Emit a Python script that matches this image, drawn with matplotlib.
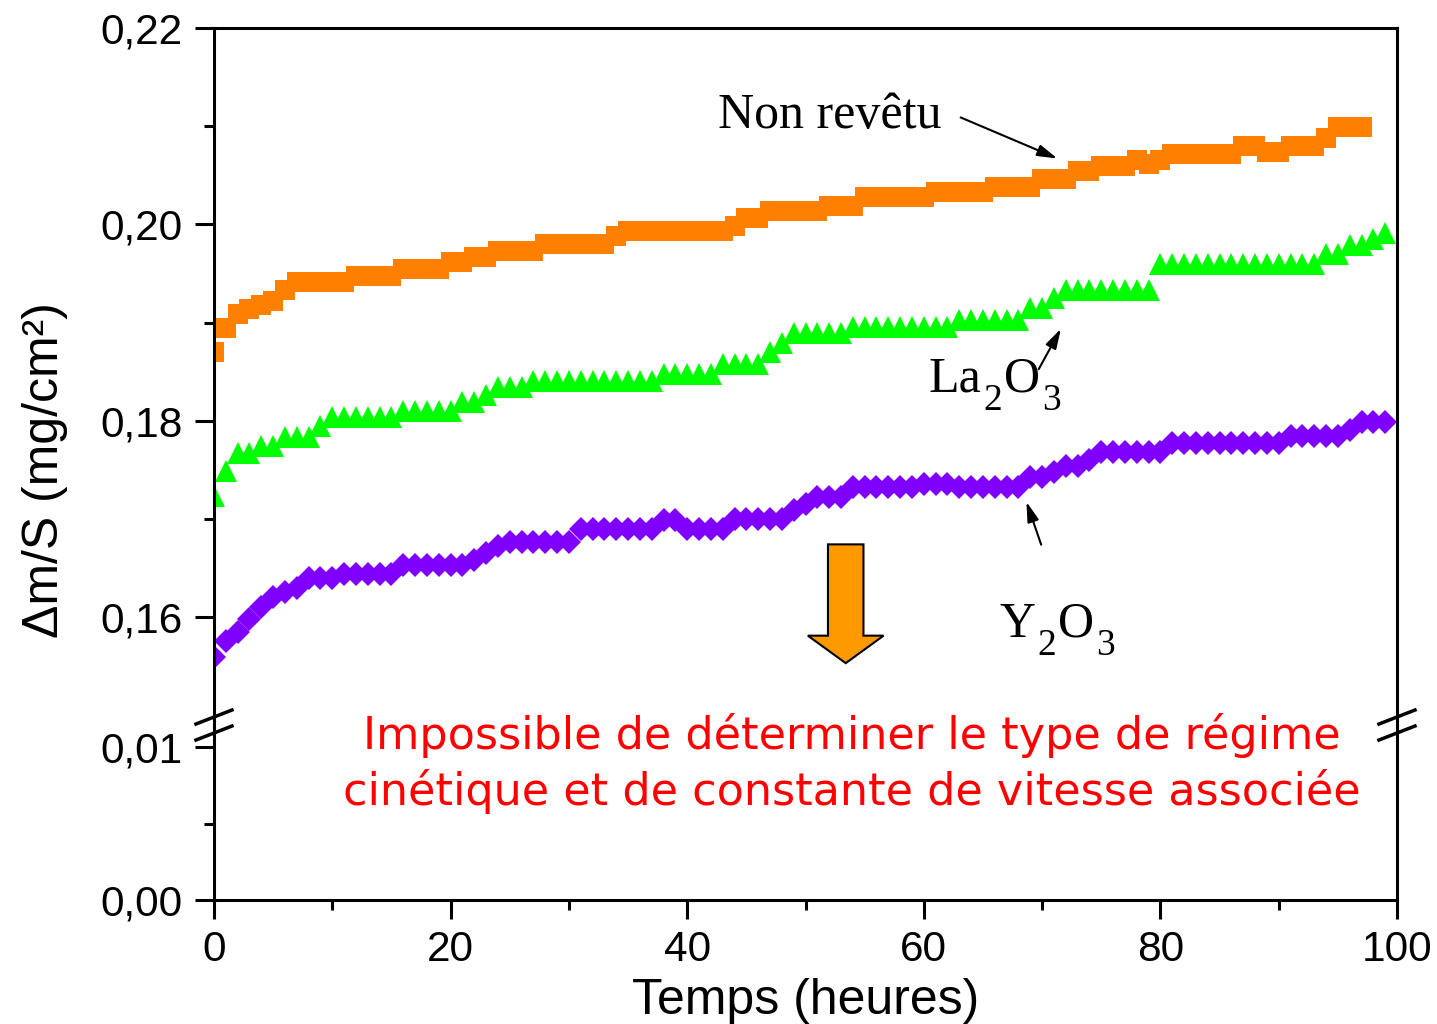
import numpy as np
import matplotlib
matplotlib.use('Agg')
import matplotlib.pyplot as plt
from matplotlib.ticker import FixedLocator, FuncFormatter
from matplotlib.patches import FancyArrow
from matplotlib.lines import Line2D

plt.rcParams['font.family'] = ['Liberation Sans', 'DejaVu Sans']

# temps (heures)
t_non = np.arange(0, 98)
t_oxy = np.arange(0, 100)

non_revetu = [
    0.1870, 0.1894, 0.1909, 0.1914, 0.1918, 0.1922, 0.1933, 0.1941, 0.1941, 0.1941,
    0.1941, 0.1941, 0.1947, 0.1947, 0.1947, 0.1947, 0.1954, 0.1954, 0.1954, 0.1954,
    0.1962, 0.1962, 0.1967, 0.1967, 0.1973, 0.1973, 0.1973, 0.1973, 0.1980, 0.1980,
    0.1980, 0.1980, 0.1980, 0.1980, 0.1988, 0.1993, 0.1993, 0.1993, 0.1993, 0.1993,
    0.1993, 0.1993, 0.1993, 0.1993, 0.1998, 0.2006, 0.2006, 0.2014, 0.2014, 0.2014,
    0.2014, 0.2014, 0.2019, 0.2019, 0.2019, 0.2028, 0.2028, 0.2028, 0.2028, 0.2028,
    0.2028, 0.2033, 0.2033, 0.2033, 0.2033, 0.2033, 0.2038, 0.2038, 0.2038, 0.2038,
    0.2046, 0.2046, 0.2046, 0.2054, 0.2054, 0.2059, 0.2059, 0.2059, 0.2066, 0.2061,
    0.2066, 0.2072, 0.2072, 0.2072, 0.2072, 0.2072, 0.2072, 0.2080, 0.2080, 0.2074,
    0.2074, 0.2080, 0.2080, 0.2080, 0.2088, 0.2099, 0.2099, 0.2099]

la2o3 = [
    0.1723, 0.1749, 0.1767, 0.1767, 0.1774, 0.1774, 0.1783, 0.1783, 0.1783, 0.1795,
    0.1804, 0.1804, 0.1804, 0.1804, 0.1804, 0.1804, 0.1810, 0.1810, 0.1810, 0.1810,
    0.1810, 0.1819, 0.1819, 0.1826, 0.1834, 0.1834, 0.1834, 0.1840, 0.1840, 0.1840,
    0.1840, 0.1840, 0.1840, 0.1840, 0.1840, 0.1840, 0.1840, 0.1840, 0.1848, 0.1848,
    0.1848, 0.1848, 0.1848, 0.1858, 0.1858, 0.1858, 0.1858, 0.1870, 0.1879, 0.1889,
    0.1889, 0.1889, 0.1889, 0.1889, 0.1895, 0.1895, 0.1895, 0.1895, 0.1895, 0.1895,
    0.1895, 0.1895, 0.1895, 0.1903, 0.1903, 0.1903, 0.1903, 0.1903, 0.1903, 0.1915,
    0.1915, 0.1925, 0.1933, 0.1933, 0.1933, 0.1933, 0.1933, 0.1933, 0.1933, 0.1933,
    0.1960, 0.1960, 0.1960, 0.1960, 0.1960, 0.1960, 0.1960, 0.1960, 0.1960, 0.1960,
    0.1960, 0.1960, 0.1960, 0.1960, 0.1970, 0.1970, 0.1979, 0.1979, 0.1985, 0.1991]

y2o3 = [
    0.1559, 0.1576, 0.1585, 0.1598, 0.1610, 0.1620, 0.1625, 0.1630, 0.1640, 0.1640,
    0.1640, 0.1644, 0.1644, 0.1644, 0.1644, 0.1644, 0.1653, 0.1653, 0.1653, 0.1653,
    0.1653, 0.1653, 0.1658, 0.1665, 0.1672, 0.1676, 0.1676, 0.1676, 0.1676, 0.1676,
    0.1676, 0.1690, 0.1690, 0.1690, 0.1690, 0.1690, 0.1690, 0.1690, 0.1699, 0.1699,
    0.1690, 0.1690, 0.1690, 0.1690, 0.1700, 0.1700, 0.1700, 0.1700, 0.1700, 0.1709,
    0.1715, 0.1722, 0.1722, 0.1722, 0.1732, 0.1732, 0.1732, 0.1732, 0.1732, 0.1732,
    0.1735, 0.1735, 0.1735, 0.1732, 0.1732, 0.1732, 0.1732, 0.1732, 0.1732, 0.1743,
    0.1743, 0.1748, 0.1754, 0.1754, 0.1760, 0.1768, 0.1768, 0.1768, 0.1768, 0.1768,
    0.1768, 0.1777, 0.1777, 0.1777, 0.1777, 0.1777, 0.1777, 0.1777, 0.1777, 0.1777,
    0.1777, 0.1784, 0.1784, 0.1784, 0.1784, 0.1784, 0.1790, 0.1799, 0.1799, 0.1799]

x_ticks = [0, 20, 40, 60, 80, 100]
y_ticks_haut = [0.16, 0.18, 0.20, 0.22]
y_ticks_bas = [0.00, 0.01]

W, H = 1437, 1024
fig = plt.figure(figsize=(W / 100, H / 100), dpi=100)

def fx(px):
    return px / W

def fy(py):
    return 1 - py / H

left, right = fx(214), fx(1397)
ax_h = fig.add_axes([left, fy(725), right - left, fy(28) - fy(725)])
ax_b = fig.add_axes([left, fy(900), right - left, fy(725) - fy(900)])

for ax in (ax_h, ax_b):
    ax.plot(t_non, non_revetu, 's', color='#FF8000', ms=14.4, mew=0)
    ax.plot(t_oxy, la2o3, '^', color='#00FF00', ms=16, mew=0)
    ax.plot(t_oxy, y2o3, 'D', color='#8000FF', ms=12.5, mew=0)
    ax.set_xlim(0, 100)
    for s in ax.spines.values():
        s.set_linewidth(2.2)
    ax.tick_params(axis='both', which='major', direction='out', length=13.5, width=2.2,
                   labelsize=30.5, pad=9)
    ax.tick_params(axis='both', which='minor', direction='out', length=7, width=2.2)
    ax.yaxis.set_major_formatter(FuncFormatter(lambda v, p: f'{v:.2f}'.replace('.', ',')))

ax_h.set_ylim(0.1490, 0.22)
ax_b.set_ylim(0, 0.01144)
ax_h.spines['bottom'].set_visible(False)
ax_b.spines['top'].set_visible(False)
ax_h.tick_params(axis='x', which='both', bottom=False, labelbottom=False)
ax_h.yaxis.set_major_locator(FixedLocator(y_ticks_haut))
ax_h.yaxis.set_minor_locator(FixedLocator([0.17, 0.19, 0.21]))
ax_b.yaxis.set_major_locator(FixedLocator(y_ticks_bas))
ax_b.yaxis.set_minor_locator(FixedLocator([0.005]))
ax_b.xaxis.set_major_locator(FixedLocator(x_ticks))
ax_b.xaxis.set_minor_locator(FixedLocator([10, 30, 50, 70, 90]))
ax_b.tick_params(axis='x', which='major', pad=8)

ax_b.set_xlabel('Temps (heures)', fontsize=36, labelpad=6)
fig.text(fx(45), fy(470), 'Δm/S (mg/cm²)', rotation=90, fontsize=36,
         ha='center', va='center')

# marques de coupure
for xc in (214, 1397):
    for yc in (717, 733):
        fig.add_artist(Line2D([fx(xc - 18), fx(xc + 18)], [fy(yc + 7), fy(yc - 7)],
                              color='black', lw=2.5, transform=fig.transFigure))


def formule(ax, x, y, morceaux):
    # morceaux alternent texte normal et indice (plus petit, plus bas)
    t = ax.text(x, y, morceaux[0], va='baseline', family='Liberation Serif', fontsize=36)
    for i, m in enumerate(morceaux[1:]):
        if i % 2 == 0:
            t = ax.annotate(m, xy=(1, 0), xycoords=t, xytext=(1.5, -11),
                            textcoords='offset points', va='bottom',
                            family='Liberation Serif', fontsize=27)
        else:
            t = ax.annotate(m, xy=(1, 0), xycoords=t, xytext=(1.5, 11),
                            textcoords='offset points', va='bottom',
                            family='Liberation Serif', fontsize=36)


# annotations
fleche = dict(arrowstyle='-|>,head_length=1.2,head_width=0.35', color='black', lw=1.5)
ax_h.text(42.6, 0.2098, 'Non revêtu', va='baseline', family='Liberation Serif', fontsize=36)
ax_h.annotate('', xy=(71.5, 0.2066), xytext=(62.9, 0.2110), arrowprops=fleche)
formule(ax_h, 60.4, 0.1830, ['La', '2', 'O', '3'])
ax_h.annotate('', xy=(71.7, 0.1896), xytext=(69.6, 0.1850), arrowprops=fleche)
formule(ax_h, 66.4, 0.1580, ['Y', '2', 'O', '3'])
ax_h.annotate('', xy=(68.6, 0.1720), xytext=(70.0, 0.1671), arrowprops=fleche)

ax_h.add_patch(FancyArrow(53.4, 0.1674, 0, -0.0121, width=3.0, head_width=6.4,
                          head_length=0.0028, length_includes_head=True,
                          fc='#FF9900', ec='black', lw=1.5, zorder=5))

rouge = dict(color='red', fontsize=32, family='DejaVu Sans', ha='center', va='center')
fig.text(fx(852), fy(735), 'Impossible de déterminer le type de régime', **rouge)
fig.text(fx(852), fy(792), 'cinétique et de constante de vitesse associée', **rouge)

fig.savefig('out.png', dpi=100)
